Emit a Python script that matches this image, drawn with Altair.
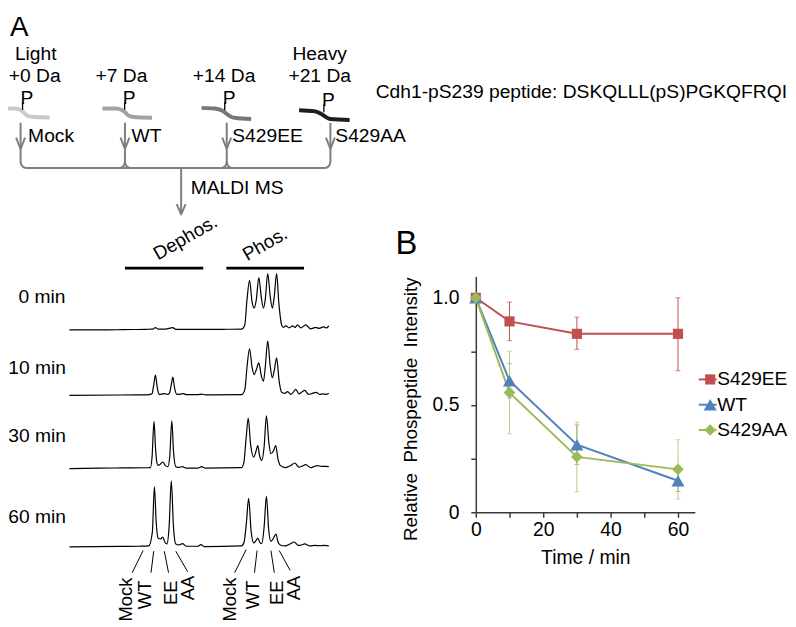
import altair as alt
import pandas as pd

FONT = "Liberation Sans"

# ---------------- Panel B data ----------------
time_min = [0, 10, 30, 60]
series_names = ["S429EE", "WT", "S429AA"]
ee_mean = [1.0, 0.89, 0.832, 0.832]
ee_lo = [1.0, 0.80, 0.76, 0.66]
ee_hi = [1.0, 0.98, 0.91, 1.0]
wt_mean = [1.0, 0.613, 0.315, 0.147]
wt_lo = [1.0, 0.533, 0.223, 0.097]
wt_hi = [1.0, 0.693, 0.407, 0.197]
aa_mean = [1.0, 0.558, 0.258, 0.200]
aa_lo = [1.0, 0.366, 0.096, 0.062]
aa_hi = [1.0, 0.751, 0.42, 0.338]

# ---------------- Panel A MALDI spectra (Δm/z in Da vs. intensity, a.u.) ----------------
spec_labels = ["0 min", "10 min", "30 min", "60 min"]
spec0_mz = [-59.5, -30, -18, 0, 5, 7.2, 9.5, 15, 20.7, 23, 40, 60, 74, 76.5, 78.2, 80.2, 82.2, 83.8,
            85.4, 87.4, 89.4, 91, 92.5, 94.3, 96.2, 97.9, 99.4, 101.2, 103, 105.1, 106.5, 108.4, 111,
            113.5, 115.5, 117.4, 120, 123.8, 127.6, 131.5, 134, 137.9, 140, 141.7]
spec0_int = [0, 0, 0.3, 0.6, 0.8, 2.3, 0.8, 0.8, 2.3, 0.6, 0.5, 0.6, 0.8, 5, 30, 50, 28, 22,
             30, 52.7, 32, 22, 32, 56.7, 34, 22, 34, 56.7, 26, 5, 2.5, 4, 2,
             4, 2.5, 5, 2, 5, 1, 2.5, 1.5, 3, 2, 4]
spec10_mz = [-59.5, -20, 0, 4.5, 5.8, 7.2, 8.6, 9.9, 12, 14.3, 16.5, 18, 19.3, 20.7, 22.1, 23.8, 26.5,
             28.9, 31, 40, 43, 46, 74, 76.6, 78.2, 80.2, 82.2, 83.8, 85.5, 87.4, 89.3, 91, 92.5, 94.3,
             96.2, 97.9, 99.5, 101.2, 103.2, 105.1, 107.5, 109.7, 112.2, 114, 116.1, 118.5, 120.5,
             123, 126, 129, 132, 134.5, 137, 140, 141.7]
spec10_int = [0, 0.3, 0.5, 1.5, 10, 20.3, 8, 1, 1.2, 1.7, 1, 2, 9, 18.3, 7, 1, 1.2,
              1.7, 0.7, 0.7, 1.2, 0.5, 0.6, 6, 28, 47, 28, 21, 26, 32.7, 20, 14.3, 30, 55,
              30, 17.7, 26, 37.7, 14, 3, 2, 3.7, 1, 3, 6, 1.5, 3,
              5, 1, 2, 3, 1, 1.5, 1, 2]
spec30_mz = [-59.5, -36.5, -18, 0, 3.3, 4.6, 6.1, 7.3, 8.3, 9.2, 11, 13, 15, 16.8, 18.3, 19.9, 21.2,
             23, 25.5, 28.2, 31, 40, 43, 46, 74, 75.8, 77.5, 79.2, 81, 83.5, 85.3, 86.6, 88, 89.7,
             91.5, 93.3, 95.2, 96.8, 98.8, 100.5, 102.2, 104, 108, 112, 115.3, 118.5, 121, 123.8,
             127.6, 130, 132.8, 136, 139, 141.7]
spec30_int = [0, 0.5, 0.7, 0.9, 1, 12, 47.7, 20, 6, 3.3, 4.5, 6.7, 3, 2, 12, 48.3, 18,
              2, 1.2, 2, 0.5, 0.5, 2, 0.5, 1, 6, 30, 51, 25, 11.7, 18, 23.3, 13, 8.3,
              22, 53.3, 26, 15, 18, 23.3, 10, 3.3, 1, 3, 5.7, 1.5, 2.5, 4,
              1, 2, 3, 2.3, 2.3, 2]
spec60_mz = [-59.5, -20, -5.7, 2, 4.8, 6.4, 7.8, 9.2, 11, 12.8, 14.5, 16.1, 17.8, 19.5, 21.2, 23, 25.5,
             28.2, 31, 40, 42.5, 45, 74, 76, 77.8, 79.5, 81.5, 83.5, 85, 86.6, 88, 89.7, 91.5, 93.3,
             95, 96.8, 98.8, 100.7, 102.3, 104, 108, 111.5, 114.8, 118, 120.5, 123, 127, 131, 135,
             138, 141.7]
spec60_int = [0, 0.5, 0.7, 1, 15, 60.7, 25, 9, 8, 10, 5, 3, 20, 66.7, 20, 3, 2,
              3.3, 0.7, 0.7, 2.3, 0.3, 1, 5, 25, 49, 15, 4, 6, 9, 5, 3.3, 20, 51.3,
              18, 5.7, 9, 13, 5, 2, 1, 3, 5, 1.5, 2, 3, 1, 1.5, 1.2,
              1.5, 1]

# ---------------- schematic content (page layout units) ----------------
strand_pts = [
    [(0, 106.7), (13.3, 106.7), (20, 107.7), (23.3, 110), (26.7, 113.3), (31.7, 115), (50, 115.7)],
    [(103.3, 106.7), (116.7, 106.7), (123.3, 108.3), (126.7, 111), (130, 114), (135, 115.3), (153.3, 116)],
    [(203.3, 106), (216.7, 106.7), (224, 108.7), (228.3, 111.7), (231.7, 114.3), (236.7, 116), (253.3, 117.3)],
    [(301.7, 108.3), (316.7, 109.3), (323.3, 111.7), (328.3, 115), (333.3, 117.3), (352.7, 118.3)],
]
strand_colors = ["#c9c9c9", "#a2a2a2", "#777777", "#1e1e1e"]
column_x = [20.7, 126, 228.7, 333.3]

header_center = [("Light", 36, 57.5), ("+0 Da", 35, 80), ("+7 Da", 122.5, 80), ("+14 Da", 226, 80),
                 ("Heavy", 322.5, 57.5), ("+21 Da", 322.5, 80),
                 ("P", 27.2, 101.7), ("P", 130.2, 101.7), ("P", 231.2, 101.7), ("P", 331.2, 104)]
left_labels = [("Mock", 28.3, 140), ("WT", 132.7, 140), ("S429EE", 234.3, 140), ("S429AA", 338.3, 140),
               ("MALDI MS", 192.3, 193.3)]
peptide_label = [("Cdh1-pS239 peptide: DSKQLLL(pS)PGKQFRQI", 379, 96)]
time_labels = [("0 min", 66, 303.3), ("10 min", 66.5, 374.3), ("30 min", 66.5, 442.7), ("60 min", 66.5, 525)]
region_labels = [("Dephos.", 159.3, 260), ("Phos.", 249.3, 260.7)]
peak_labels = [("Mock", 127, 580), ("WT", 146.5, 583), ("EE", 172.5, 583), ("AA", 189.5, 578),
               ("Mock", 232, 580), ("WT", 255, 583), ("EE", 279.5, 583), ("AA", 297, 578)]
pointer_lines = [[(144.3, 552.7), (133.3, 575)], [(155, 553.3), (152.3, 575)],
                 [(165.7, 553.3), (170, 575)], [(177.3, 553.3), (189.3, 574)],
                 [(248.3, 551.7), (236.7, 575)], [(259.3, 552.7), (256.7, 575)],
                 [(273.3, 552.7), (276.7, 575)], [(281.7, 552.7), (292.7, 572.7)]]
region_bars = [[(126, 267.7), (205, 267.7)], [(228.3, 267.7), (306.7, 267.7)]]
spec_baselines = [330, 396, 470, 549]

# ---------------- styles / layout ----------------
PL, PT = 480, 276          # page position of panel-B plot origin
W_B, H_B = 221, 238
series_colors = {"S429EE": "#C0504D", "WT": "#4F81BD", "S429AA": "#9BBB59"}
err_colors = {"S429EE": "#C0504D", "WT": "#7C94B6", "S429AA": "#B9C974"}
series_shapes = {"S429EE": "square", "WT": "triangle-up", "S429AA": "diamond"}
series_sizes = {"S429EE": 105, "WT": 175, "S429AA": 140}
GRAY = "#7f7f7f"


def page_x():
    return alt.Scale(domain=[0, 796], range=[-PL, 796 - PL], nice=False, zero=False)


def page_y():
    return alt.Scale(domain=[0, 627], range=[-PT, 627 - PT], nice=False, zero=False)


def poly_df(polys):
    rows = []
    for pid, pts in enumerate(polys):
        for k, (x, y) in enumerate(pts):
            rows.append({"pid": pid, "seq": k, "x": x, "y": y})
    return pd.DataFrame(rows)


def poly_layer(polys, color, width, interp="linear", cap="butt"):
    return alt.Chart(poly_df(polys)).mark_line(
        color=color, strokeWidth=width, interpolate=interp, strokeCap=cap, strokeJoin="round"
    ).encode(
        x=alt.X("x:Q", scale=page_x(), axis=None),
        y=alt.Y("y:Q", scale=page_y(), axis=None),
        detail="pid:N",
        order="seq:Q",
    )


def text_layer(items, size, align, baseline="alphabetic", angle=0):
    df = pd.DataFrame(items, columns=["label", "x", "y"])
    return alt.Chart(df).mark_text(
        font=FONT, fontSize=size, align=align, baseline=baseline, angle=angle, color="black"
    ).encode(
        x=alt.X("x:Q", scale=page_x(), axis=None),
        y=alt.Y("y:Q", scale=page_y(), axis=None),
        text="label:N",
    )


# connectors of the scheme
bracket = [(column_x[0], 121), (column_x[0], 160), (21.3, 163.2), (23, 165.4), (25, 166.4), (27.5, 166.7),
           (326.5, 166.7), (329, 166.4), (331, 165.4), (332.7, 163.2), (column_x[3], 160), (column_x[3], 121)]
connectors = [bracket]
for cx in column_x[1:3]:
    connectors.append([(cx - 6, 166.7), (cx - 4.1, 166.4), (cx - 2.1, 165.4), (cx - 0.6, 163.2), (cx, 160), (cx, 121)])
    connectors.append([(cx, 160), (cx + 0.6, 163.2), (cx + 2.1, 165.4), (cx + 4.1, 166.4), (cx + 6, 166.7)])
connectors.append([(182.7, 166.7), (182.7, 212)])
for cx in column_x:
    connectors.append([(cx - 4.5, 136), (cx, 147.5), (cx + 4.5, 136)])
connectors.append([(178.2, 203), (182.7, 213.5), (187.2, 203)])

stems = [[(22.7, 100.5), (22.7, 108)], [(125.7, 100.5), (125.7, 108)],
         [(226.7, 100.5), (226.7, 108.5)], [(326.7, 102.5), (326.7, 110.5)]]

scheme_layers = [poly_layer(connectors, GRAY, 2)]
for pts, col in zip(strand_pts, strand_colors):
    scheme_layers.append(poly_layer([pts], col, 4, interp="monotone"))
scheme_layers += [
    poly_layer(stems, "black", 1.3),
    poly_layer(region_bars, "black", 2.7),
    poly_layer(pointer_lines, "black", 1),
    text_layer(header_center, 19.4, "center"),
    text_layer(left_labels, 19.4, "left"),
    text_layer(peptide_label, 19.4, "left"),
    text_layer([("A", 10, 33.6)], 28, "left"),
    text_layer([("B", 399, 253)], 33, "left"),
    text_layer(time_labels, 19.4, "right"),
    text_layer(region_labels, 19, "left", angle=330),
    text_layer(peak_labels, 18.5, "right", baseline="middle", angle=270),
]
scheme = alt.layer(*scheme_layers)

# spectra
spectra = []
for mz, inten, base in zip([spec0_mz, spec10_mz, spec30_mz, spec60_mz],
                           [spec0_int, spec10_int, spec30_int, spec60_int], spec_baselines):
    assert len(mz) == len(inten)
    df = pd.DataFrame({"mz": mz, "intensity": inten, "seq": list(range(len(mz)))})
    spectra.append(
        alt.Chart(df).mark_line(color="black", strokeWidth=1.2, interpolate="monotone").encode(
            x=alt.X("mz:Q", scale=alt.Scale(domain=[-59.5, 141.7], range=[70 - PL, 331.7 - PL],
                                            nice=False, zero=False), axis=None),
            y=alt.Y("intensity:Q", scale=alt.Scale(domain=[0, 100], range=[base - PT, base - 100 - PT],
                                                   nice=False, zero=False), axis=None),
            order="seq:Q",
        )
    )

# ---------------- panel B ----------------
rows = []
for name, m, lo, hi in [("S429EE", ee_mean, ee_lo, ee_hi), ("WT", wt_mean, wt_lo, wt_hi),
                        ("S429AA", aa_mean, aa_lo, aa_hi)]:
    for t, a, b, c in zip(time_min, m, lo, hi):
        rows.append({"series": name, "time": t, "mean": a, "lo": b, "hi": c})
df_b = pd.DataFrame(rows)

AX = "#3a3a3a"
x_axis = alt.Axis(orient="bottom", values=[0, 10, 20, 30, 40, 50, 60],
                  labelExpr="datum.value % 20 == 0 ? datum.label : ''",
                  tickSize=5, tickWidth=1.5, tickColor=AX, domainColor=AX, domainWidth=1.5,
                  labelFont=FONT, labelFontSize=19.5, labelColor="black", labelPadding=3,
                  labelFlush=False, labelOverlap=False, grid=False,
                  title="Time / min", titleFont=FONT, titleFontSize=19.5, titleFontWeight="normal",
                  titleColor="black", titleBaseline="alphabetic", titleY=52)
y_axis = alt.Axis(orient="left", values=[0, 0.25, 0.5, 0.75, 1.0],
                  labelExpr="datum.value == 0 ? '0' : datum.value == 0.5 ? '0.5' : datum.value == 1 ? '1.0' : ''",
                  tickSize=5, tickWidth=1.5, tickColor=AX, domainColor=AX, domainWidth=1.5,
                  labelFont=FONT, labelFontSize=19.5, labelColor="black", labelPadding=12,
                  labelFlush=False, labelOverlap=False, grid=False,
                  title="Relative\u00a0 Phospeptide\u00a0 Intensity", titleFont=FONT, titleFontSize=19,
                  titleFontWeight="normal", titleColor="black", titleAngle=270, titleAlign="center",
                  titleBaseline="alphabetic", titleX=-60, titleY=133.5)
x_scale_b = alt.Scale(domain=[0, 65], nice=False, zero=False)
y_scale_b = alt.Scale(domain=[0, 1.1], nice=False, zero=False)


def xb():
    return alt.X("time:Q", scale=x_scale_b, axis=x_axis)


def yb(field):
    return alt.Y(f"{field}:Q", scale=y_scale_b, axis=y_axis)


b_layers = []
for s in series_names:
    base = alt.Chart(df_b).transform_filter((alt.datum.series == s) & (alt.datum.hi > alt.datum.lo))
    b_layers.append(base.mark_rule(color=err_colors[s], strokeWidth=1).encode(x=xb(), y=yb("lo"), y2="hi:Q"))
    b_layers.append(base.mark_tick(color=err_colors[s], orient="horizontal", size=5, thickness=1)
                    .encode(x=xb(), y=yb("lo")))
    b_layers.append(base.mark_tick(color=err_colors[s], orient="horizontal", size=5, thickness=1)
                    .encode(x=xb(), y=yb("hi")))
for s in series_names:
    base = alt.Chart(df_b).transform_filter(alt.datum.series == s)
    b_layers.append(base.mark_line(color=series_colors[s], strokeWidth=2).encode(x=xb(), y=yb("mean")))
for s in series_names:
    base = alt.Chart(df_b).transform_filter(alt.datum.series == s)
    b_layers.append(base.mark_point(shape=series_shapes[s], size=series_sizes[s], filled=True,
                                    color=series_colors[s], opacity=1).encode(x=xb(), y=yb("mean")))
panel_b = alt.layer(*b_layers)

# legend of panel B
leg_df = pd.DataFrame({"series": series_names})
leg_y = alt.Y("series:N", scale=alt.Scale(type="point", domain=series_names, range=[104, 155], padding=0),
              axis=None)
leg_layers = []
for s in series_names:
    base = alt.Chart(leg_df).transform_filter(alt.datum.series == s)
    leg_layers.append(base.mark_rule(color=series_colors[s], strokeWidth=2)
                      .encode(x=alt.value(225), x2=alt.value(243), y=leg_y))
    leg_layers.append(base.mark_point(shape=series_shapes[s], size=series_sizes[s], filled=True,
                                      color=series_colors[s], opacity=1)
                      .encode(x=alt.value(236.5), y=leg_y))
leg_layers.append(alt.Chart(leg_df).mark_text(font=FONT, fontSize=19.3, align="left", baseline="middle",
                                              color="black")
                  .encode(x=alt.value(243.5), y=leg_y, text="series:N"))
legend = alt.layer(*leg_layers)

chart = alt.layer(scheme, *spectra, legend, panel_b).resolve_scale(
    x="independent", y="independent"
).properties(
    width=W_B, height=H_B,
    autosize=alt.AutoSizeParams(type="none"),
    padding={"left": PL - 8, "top": PT - 8, "right": 94, "bottom": 619 - (PT - 8) - H_B},
    background="white",
).configure_view(stroke="transparent")

chart.save("out.html", embed_options={"renderer": "svg", "actions": False})
